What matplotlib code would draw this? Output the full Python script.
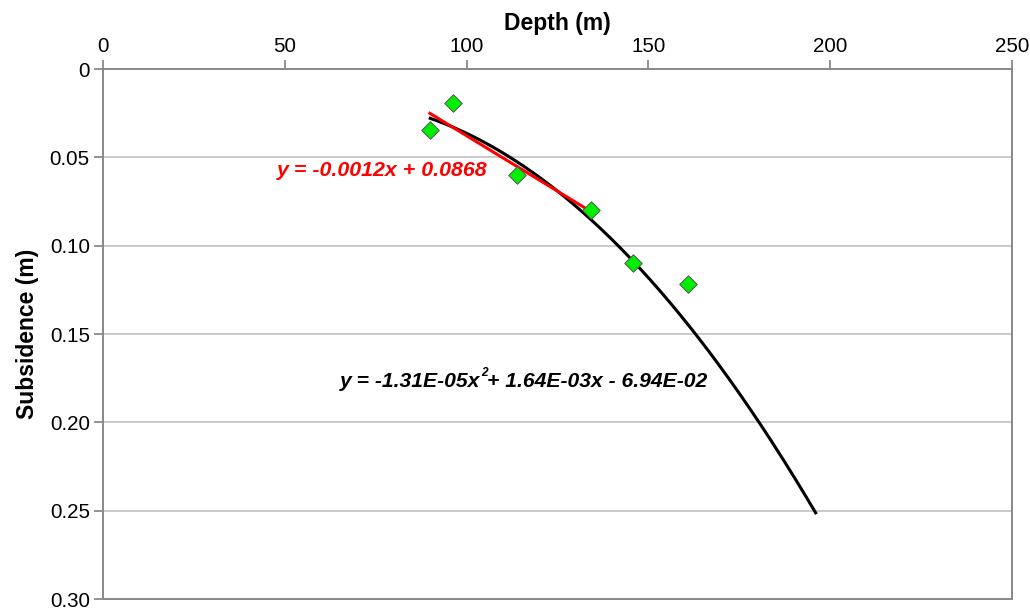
import numpy as np
import matplotlib.pyplot as plt

plt.rcParams['font.family'] = ['Liberation Sans', 'DejaVu Sans']

# measured points (depth m, subsidence m)
depth = [89.9, 96.3, 113.9, 134.2, 145.8, 160.9]
subsidence = [0.0347, 0.0192, 0.0602, 0.080, 0.110, 0.1216]

# quadratic trend as printed on the chart (sign flipped -> subsidence)
quad_coef = [-1.31e-05, 1.64e-03, -6.94e-02]
quad_range = (90.0, 196.0)

# linear trend fitted on the first four points
n_lin = 4

fig = plt.figure(figsize=(10.3, 6.14), dpi=100)
ax = fig.add_axes([0.1, 0.0244, 0.8825, 0.8632])

xq = np.linspace(quad_range[0], quad_range[1], 200)
ax.plot(xq, -np.polyval(quad_coef, xq), color='black', lw=2.2, zorder=3)

lin = np.polyfit(depth[:n_lin], subsidence[:n_lin], 1)
xl = np.array([min(depth[:n_lin]), max(depth[:n_lin]) - 1.5])
ax.plot(xl, np.polyval(lin, xl), color='red', lw=2.2, zorder=4)

ax.scatter(depth, subsidence, marker='D', s=80, color='#00ee00',
           edgecolors='#555555', linewidths=0.7, zorder=5)

ax.set_xlim(0, 250)
ax.set_ylim(0.30, 0)

ax.text(47.9, 0.0574, 'y = -0.0012x + 0.0868', color='red', fontsize=15.4,
        fontweight='bold', fontstyle='italic', va='center', ha='left')
# equation in pieces so the exponent can be small and raised
t = ax.text(65.2, 0.177, 'y = -1.31E-05x', color='black', fontsize=15.2,
            fontweight='bold', fontstyle='italic', va='center', ha='left')
ax.annotate('2', xy=(1, 1), xycoords=t, xytext=(0.5, 3.5),
            textcoords='offset points', fontsize=8.5, fontweight='bold',
            fontstyle='italic', va='top', ha='left')
ax.annotate('+ 1.64E-03x - 6.94E-02', xy=(1, 0.5), xycoords=t,
            xytext=(4.5, 0), textcoords='offset points',
            fontsize=15.2, fontweight='bold', fontstyle='italic',
            va='center', ha='left')

ax.xaxis.tick_top()
ax.xaxis.set_label_position('top')
ax.set_xticks([0, 50, 100, 150, 200, 250])
ax.set_yticks([0, 0.05, 0.10, 0.15, 0.20, 0.25, 0.30])
ax.set_yticklabels(['0', '0.05', '0.10', '0.15', '0.20', '0.25', '0.30'])
ax.tick_params(axis='both', labelsize=14.8, color='#808080', length=6.5,
               direction='out', width=1.2, pad=3)
ax.set_xlabel('Depth (m)', fontsize=16.5, fontweight='bold', labelpad=5)
ax.set_ylabel('Subsidence (m)', fontsize=16.5, fontweight='bold', labelpad=8)

ax.yaxis.grid(True, color='#c0c0c0', lw=1.2)
ax.set_axisbelow(True)
for s in ax.spines.values():
    s.set_color('#888888')
    s.set_linewidth(1.4)

fig.savefig('out.png', dpi=100)
